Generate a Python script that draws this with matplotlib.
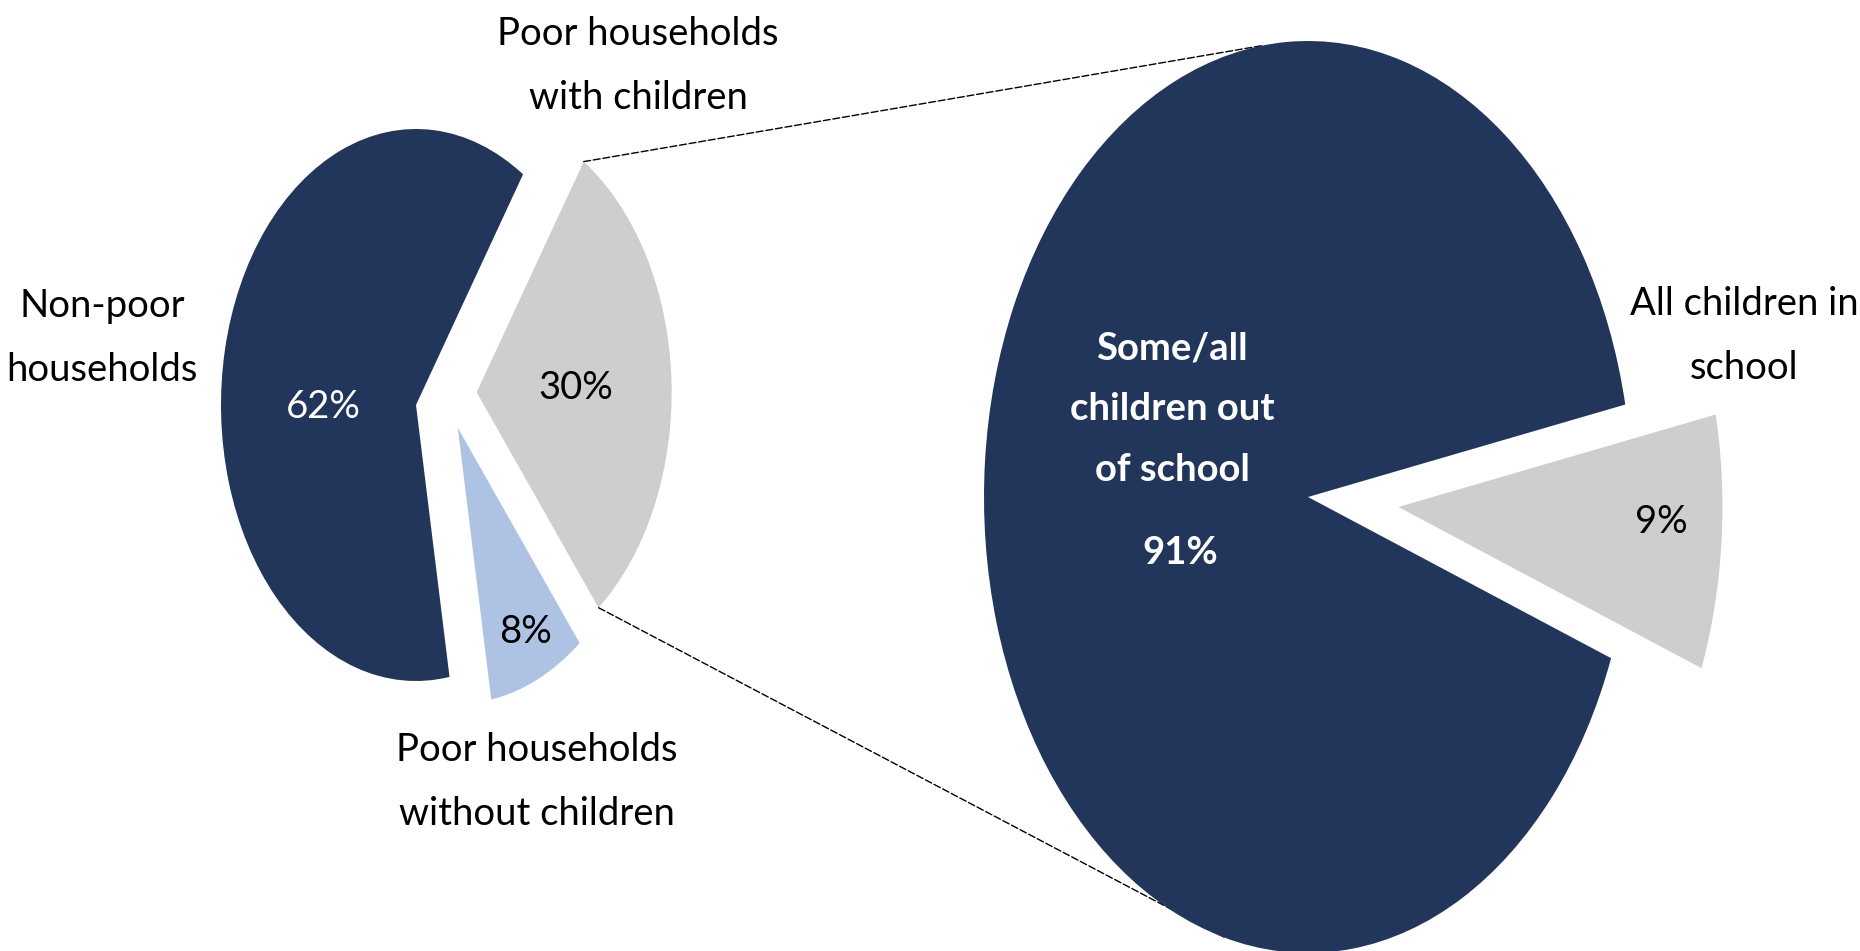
import numpy as np
import matplotlib.pyplot as plt
from matplotlib.patches import ConnectionPatch

W, H = 1860, 951

# all households, by poverty status and children
hh_labels = ["Non-poor\nhouseholds", "Poor households\nwith children", "Poor households\nwithout children"]
hh_share = [62, 30, 8]

# poor households with children, by school attendance
school_labels = ["Some/all\nchildren out\nof school", "All children in\nschool"]
school_share = [91, 9]

navy = "#22355A"
grey = "#CECECE"
light_blue = "#AEC3E4"

plt.rcParams['font.family'] = ['Lato', 'DejaVu Sans']

fig = plt.figure(figsize=(W / 100, H / 100), dpi=100)


def pie_axes(cx, cy, rx, ry, pad):
    """ axes whose unit circle lands on an ellipse centred at pixel (cx, cy) """
    ax = fig.add_axes([(cx - pad * rx) / W, (H - cy - pad * ry) / H,
                       2 * pad * rx / W, 2 * pad * ry / H])
    return ax


def squash(ax, pad):
    ax.set_aspect('auto')
    ax.set_xlim(-pad, pad)
    ax.set_ylim(-pad, pad)


# left pie, slices pulled apart by hand
ax1 = pie_axes(416, 405, 195, 276, 1.6)
w1, _ = ax1.pie(hh_share, colors=[navy, grey, light_blue], startangle=-80.1,
                counterclock=False, wedgeprops=dict(linewidth=0))
for w, off in zip(w1, [(0, 0), (0.311, 0.046), (0.214, -0.082)]):
    w.set_center(off)
squash(ax1, 1.6)

# right pie, breakdown of the grey slice
ax2 = pie_axes(1308, 497, 324, 456, 1.4)
w2, _ = ax2.pie(school_share, colors=[navy, grey], startangle=-20.7,
                counterclock=False, explode=[0, 0.28], wedgeprops=dict(linewidth=0))
squash(ax2, 1.4)

# dashed lines from the grey slice to the right pie
gw = w1[1]
for th, phi in [(gw.theta2, 98.3), (gw.theta1, -104.6)]:
    a, b = np.deg2rad(th), np.deg2rad(phi)
    xy_a = (gw.center[0] + gw.r * np.cos(a), gw.center[1] + gw.r * np.sin(a))
    xy_b = (np.cos(b), np.sin(b))
    con = ConnectionPatch(xyA=xy_a, coordsA=ax1.transData, xyB=xy_b, coordsB=ax2.transData,
                          color='black', lw=1, linestyle=(0, (5, 2)), zorder=0)
    ax2.add_artist(con)

# text layer in pixel coordinates
ax_t = fig.add_axes([0, 0, 1, 1])
ax_t.set_xlim(0, W)
ax_t.set_ylim(H, 0)
ax_t.axis('off')

fs = 27.5
kw = dict(ha='center', va='center', fontsize=fs, linespacing=1.95)
ax_t.text(102, 338, hh_labels[0], **kw)
ax_t.text(638, 66, hh_labels[1], **kw)
ax_t.text(537, 782, hh_labels[2], **kw)
ax_t.text(323, 407, f"{hh_share[0]}%", color='white', **kw)
ax_t.text(576, 388, f"{hh_share[1]}%", **kw)
ax_t.text(525, 632, f"{hh_share[2]}%", **kw)

ax_t.text(1172, 409, school_labels[0], color='white', fontweight='bold', **kw)
ax_t.text(1180, 553, f"{school_share[0]}%", color='white', fontweight='bold', **kw)
ax_t.text(1744, 336, school_labels[1], **kw)
ax_t.text(1661, 522, f"{school_share[1]}%", **kw)

fig.savefig("out.png", dpi=100)
